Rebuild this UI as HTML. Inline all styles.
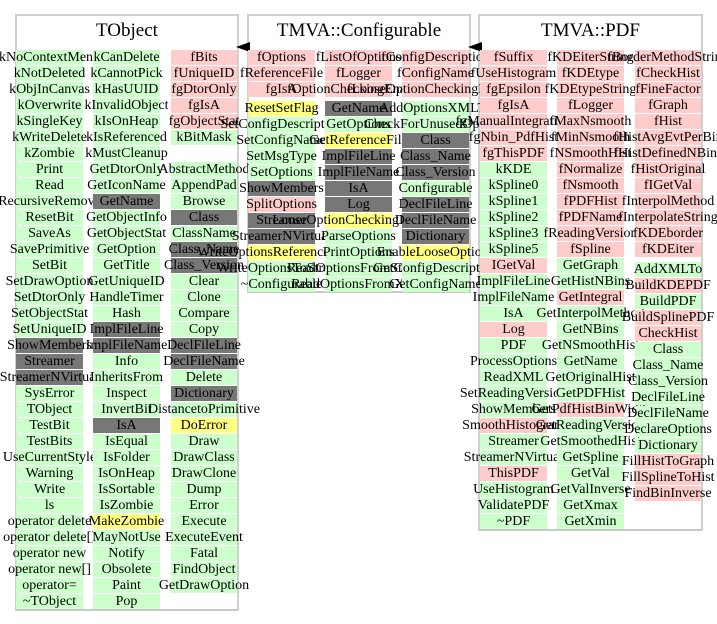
<!DOCTYPE html>
<html><head><meta charset="utf-8">
<style>
html,body{margin:0;padding:0;background:#fff;}
#root{position:relative;width:717px;height:624px;overflow:hidden;font-family:"Liberation Serif",serif;}
.box{position:absolute;border:2px solid #d0d0d0;border-bottom-color:#c8c8c8;background:#fff;box-sizing:border-box;}
.title{position:absolute;font-size:19px;text-align:center;width:100%;top:4px;}
.cell{position:absolute;height:15px;display:flex;justify-content:center;align-items:center;white-space:nowrap;font-size:14px;line-height:15px;color:#000;}
.p{background:#ffcccc}.g{background:#ccffcc}.d{background:#777777}.y{background:#ffff80}
.tri{position:absolute;width:0;height:0;border-top:5px solid transparent;border-bottom:5px solid transparent;border-right:14px solid #000;}
</style></head>
<body>
<div id="root">
  <div class="box" style="left:15px;top:14px;width:224px;height:597px"><div class="title">TObject</div></div>
  <div class="box" style="left:247px;top:14px;width:224px;height:279px"><div class="title">TMVA::Configurable</div></div>
  <div class="box" style="left:478px;top:14px;width:225px;height:517px"><div class="title">TMVA::PDF</div></div>
  <div class="tri" style="left:236px;top:42px"></div>
  <div class="tri" style="left:468px;top:42px"></div>
</div>
<script>
var cols=[
 // TObject
 {x:16,w:67,y:50,gapAt:-1,items:"g:kNoContextMenu g:kNotDeleted g:kObjInCanvas g:kOverwrite g:kSingleKey g:kWriteDelete g:kZombie g:Print g:Read g:RecursiveRemove g:ResetBit g:SaveAs g:SavePrimitive g:SetBit g:SetDrawOption g:SetDtorOnly g:SetObjectStat g:SetUniqueID d:ShowMembers d:Streamer d:StreamerNVirtual g:SysError g:TObject g:TestBit g:TestBits g:UseCurrentStyle g:Warning g:Write g:ls g:operator_delete g:operator_delete[] g:operator_new g:operator_new[] g:operator= g:~TObject"},
 {x:93,w:67,y:50,gapAt:-1,items:"g:kCanDelete g:kCannotPick g:kHasUUID g:kInvalidObject g:kIsOnHeap g:kIsReferenced g:kMustCleanup g:GetDtorOnly g:GetIconName d:GetName g:GetObjectInfo g:GetObjectStat g:GetOption g:GetTitle g:GetUniqueID g:HandleTimer g:Hash d:ImplFileLine d:ImplFileName g:Info g:InheritsFrom g:Inspect g:InvertBit d:IsA g:IsEqual g:IsFolder g:IsOnHeap g:IsSortable g:IsZombie y:MakeZombie g:MayNotUse g:Notify g:Obsolete g:Paint g:Pop"},
 {x:171,w:66,y:50,gapAt:-1,items:"p:fBits p:fUniqueID p:fgDtorOnly p:fgIsA p:fgObjectStat g:kBitMask n: g:AbstractMethod g:AppendPad g:Browse d:Class g:ClassName d:Class_Name d:Class_Version g:Clear g:Clone g:Compare g:Copy d:DeclFileLine d:DeclFileName g:Delete d:Dictionary g:DistancetoPrimitive y:DoError g:Draw g:DrawClass g:DrawClone g:Dump g:Error g:Execute g:ExecuteEvent g:Fatal g:FindObject g:GetDrawOption"},
 // Configurable
 {x:248,w:67,y:50,gapAt:3,items:"p:fOptions p:fReferenceFile p:fgIsA y:ResetSetFlag g:SetConfigDescription g:SetConfigName g:SetMsgType g:SetOptions d:ShowMembers p:SplitOptions d:Streamer d:StreamerNVirtual y:WriteOptionsReferenceToFile g:WriteOptionsToStream g:~Configurable"},
 {x:325,w:67,y:50,gapAt:3,items:"p:fListOfOptions p:fLogger p:fOptionCheckingEnabled d:GetName g:GetOptions y:GetReferenceFile d:ImplFileLine d:ImplFileName d:IsA d:Log y:LooseOptionCheckingEnabled g:ParseOptions g:PrintOptions g:ReadOptionsFromStream g:ReadOptionsFromXML"},
 {x:402,w:67,y:50,gapAt:3,items:"p:fConfigDescription p:fConfigName p:fLooseOptionCheckingEnabled g:AddOptionsXMLTo g:CheckForUnusedOptions d:Class d:Class_Name d:Class_Version g:Configurable d:DeclFileLine d:DeclFileName d:Dictionary y:EnableLooseOptions g:GetConfigDescription g:GetConfigName"},
 // PDF
 {x:480,w:67,y:50,gapAt:-1,items:"p:fSuffix p:fUseHistogram p:fgEpsilon p:fgIsA p:fgManualIntegration p:fgNbin_PdfHist p:fgThisPDF g:kKDE g:kSpline0 g:kSpline1 g:kSpline2 g:kSpline3 g:kSpline5 p:IGetVal g:ImplFileLine g:ImplFileName g:IsA p:Log g:PDF g:ProcessOptions g:ReadXML g:SetReadingVersion g:ShowMembers p:SmoothHistogram g:Streamer g:StreamerNVirtual p:ThisPDF g:UseHistogram g:ValidatePDF g:~PDF"},
 {x:557,w:67,y:50,gapAt:-1,items:"p:fKDEiterString p:fKDEtype p:fKDEtypeString p:fLogger p:fMaxNsmooth p:fMinNsmooth p:fNSmoothHist p:fNormalize p:fNsmooth p:fPDFHist p:fPDFName p:fReadingVersion p:fSpline g:GetGraph g:GetHistNBins p:GetIntegral g:GetInterpolMethod g:GetNBins g:GetNSmoothHist g:GetName g:GetOriginalHist g:GetPDFHist p:GetPdfHistBinWidth g:GetReadingVersion g:GetSmoothedHist g:GetSpline g:GetVal g:GetValInverse g:GetXmax g:GetXmin"},
 {x:635,w:66,y:50,gapAt:13,items:"p:fBorderMethodString p:fCheckHist p:fFineFactor p:fGraph p:fHist p:fHistAvgEvtPerBin p:fHistDefinedNBins p:fHistOriginal p:fIGetVal p:fInterpolMethod p:fInterpolateString p:fKDEborder p:fKDEiter g:AddXMLTo p:BuildKDEPDF g:BuildPDF p:BuildSplinePDF p:CheckHist g:Class g:Class_Name g:Class_Version g:DeclFileLine g:DeclFileName g:DeclareOptions g:Dictionary p:FillHistToGraph p:FillSplineToHist p:FindBinInverse"}
];
var root=document.getElementById('root');
cols.forEach(function(c){
  var items=c.items.split(' ');
  items.forEach(function(it,i){
    var k=it.split(':')[0];
    var t=it.substring(2).replace(/_(?=(delete|new))/,' ');
    if(k==='n')return;
    var el=document.createElement('div');
    el.className='cell '+k;
    var top=c.y+i*16+(c.gapAt>=0&&i>=c.gapAt?(c.gapAt===3?3:4):0);
    el.style.left=c.x+'px';
    el.style.top=top+'px';
    el.style.width=c.w+'px';
    el.textContent=t;
    
    
    root.appendChild(el);
  });
});
</script>
</body></html>
